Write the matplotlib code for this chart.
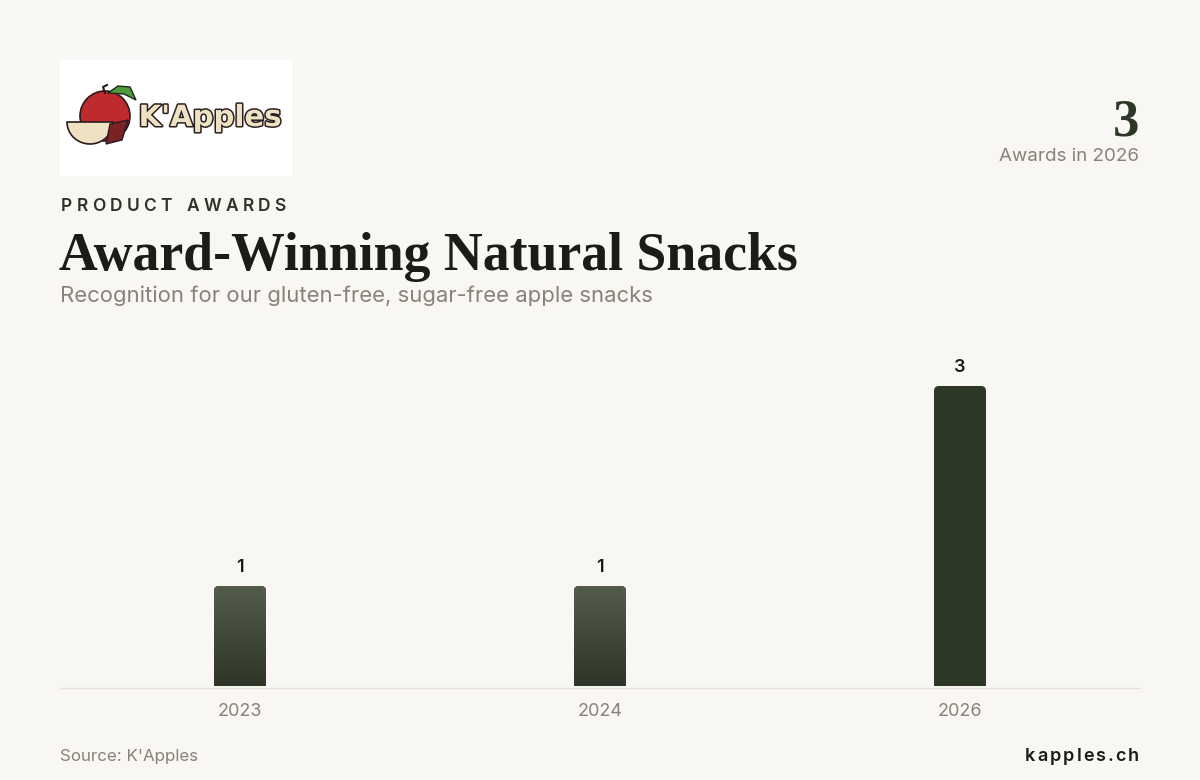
import numpy as np
import matplotlib.pyplot as plt
from matplotlib.patches import FancyBboxPatch, Circle, Polygon, Rectangle
from matplotlib.colors import LinearSegmentedColormap
import matplotlib.patheffects as pe

years = ["2023", "2024", "2026"]
awards = [1, 1, 3]
headline_value = "3"
headline_label = "Awards in 2026"

BG = "#f8f7f3"
DARK = "#2d3725"
INK = "#1c1c17"
GRAY = "#8a8178"

W, H = 1200, 780
fig = plt.figure(figsize=(12, 7.8), dpi=100, facecolor=BG)


def fx(px):
    return px / W


def fy(py):
    return 1 - py / H


def spaced(x, y, s, spacing, ha="left", **kw):
    # letter-spaced text, placed char by char
    r = fig.canvas.get_renderer()
    widths = []
    for ch in s:
        t = fig.text(0, 0, ch if ch != " " else "n", **kw)
        widths.append(t.get_window_extent(r).width * (0.55 if ch == " " else 1))
        t.remove()
    total = sum(widths) + spacing * (len(s) - 1)
    cx = x if ha == "left" else x - total
    for ch, w in zip(s, widths):
        fig.text(fx(cx), fy(y), ch, va="baseline", ha="left", **kw)
        cx += w + spacing


# logo box
logo = fig.add_axes([fx(60), fy(176), fx(232), 116 / H])
logo.set_xlim(0, 232)
logo.set_ylim(116, 0)
logo.axis("off")
logo.add_patch(Rectangle((0, 0), 232, 116, facecolor="white", edgecolor="none"))
logo.add_patch(Circle((45, 56), 25, facecolor="#bf2a2f", edgecolor="#2a1c1c", lw=1.2))
logo.add_patch(Polygon([[48, 33], [58, 26], [70, 27], [76, 40], [64, 34]], closed=True,
                       facecolor="#4f9a3a", edgecolor="#1e2a1a", lw=1))
logo.plot([45, 43, 47], [33, 27, 25], color="#2a1c1c", lw=1.5)
t = np.linspace(0, np.pi, 40)
sx = 30 + 23 * np.cos(t)
sy = 62 + 22 * np.sin(t)
logo.add_patch(Polygon(np.column_stack([sx, sy]), closed=True, facecolor="#efe2c4",
                       edgecolor="#2a1c1c", lw=1.2))
logo.add_patch(Polygon([[50, 64], [68, 60], [62, 80], [46, 84]], closed=True,
                       facecolor="#7a2226", edgecolor="#2a1c1c", lw=1))
logo.text(150, 58, "K'Apples", ha="center", va="center", fontsize=21, fontweight="bold",
          family="DejaVu Sans", color="#efe2c4",
          path_effects=[pe.Stroke(linewidth=2.2, foreground="#2a2020"), pe.Normal()])

# headline number
fig.text(fx(1139), fy(135), headline_value, ha="right", va="baseline", fontsize=38,
         fontweight="bold", family="Liberation Serif", color=DARK)
fig.text(fx(1139), fy(161), headline_label, ha="right", va="baseline", fontsize=13.5,
         family="Inter", color=GRAY)

# eyebrow, title, subtitle
spaced(61, 211, "PRODUCT AWARDS", 4.3, fontsize=12.5, fontweight="semibold",
       family="Inter", color="#2b3323")
fig.text(fx(59), fy(270), "Award-Winning Natural Snacks", ha="left", va="baseline",
         fontsize=38.7, fontweight="bold", family="Liberation Serif", color=INK)
fig.text(fx(60), fy(302), "Recognition for our gluten-free, sugar-free apple snacks",
         ha="left", va="baseline", fontsize=15.9, family="Inter", color=GRAY)

# chart
ax = fig.add_axes([fx(60), fy(686), fx(1080), 350 / H])
ax.set_facecolor("none")
xmin, xmax, ymax = -0.5, len(years) - 0.5, 3.5
for s in ax.spines.values():
    s.set_visible(False)
ax.set_yticks([])
ax.set_xticks(range(len(years)))
ax.set_xticklabels(years, fontsize=13, family="Inter", color=GRAY)
ax.tick_params(axis="x", length=0, pad=12)
ax.axhline(-0.015, color="#e6e2d6", lw=1.0, zorder=1, clip_on=False)

xpp = (xmax - xmin) / 1080   # x units per pixel
ypp = ymax / 350             # y units per pixel
bw = 52 * xpp
grad = np.linspace(0, 1, 256).reshape(-1, 1)
cmap = LinearSegmentedColormap.from_list("g", ["#2e3526", "#545c4c"])
for i, v in enumerate(awards):
    x0 = i - bw / 2
    patch = FancyBboxPatch((x0, -0.2), bw, v + 0.2,
                           boxstyle="round,pad=0,rounding_size=%f" % (5 * xpp),
                           mutation_aspect=ypp / xpp,
                           facecolor=DARK, edgecolor="none", zorder=2)
    ax.add_patch(patch)
    if v < max(awards):
        im = ax.imshow(grad, extent=[x0, x0 + bw, 0, v], origin="lower", cmap=cmap,
                       aspect="auto", zorder=3)
        im.set_clip_path(patch)
    ax.text(i, v + 0.1, str(v), ha="center", va="bottom", fontsize=13,
            fontweight="semibold", family="Inter", color=INK)
ax.set_xlim(xmin, xmax)
ax.set_ylim(0, ymax)

# footer
fig.text(fx(60), fy(761), "Source: K'Apples", ha="left", va="baseline", fontsize=12.2,
         family="Inter", color=GRAY)
spaced(1139, 761, "kapples.ch", 2.0, ha="right", fontsize=13, fontweight="semibold",
       family="Inter", color=INK)

fig.savefig("out.png", dpi=100, facecolor=BG)
